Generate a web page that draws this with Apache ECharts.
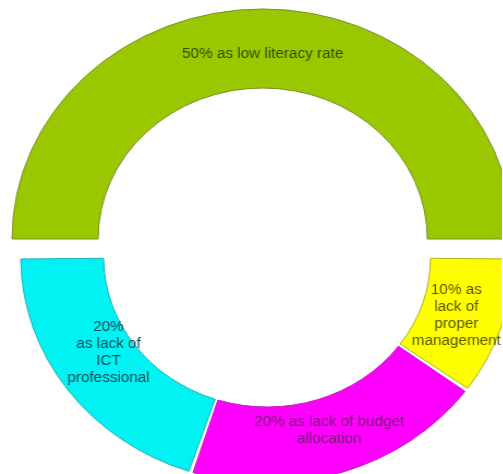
<!DOCTYPE html>
<html>
<head>
<meta charset="utf-8">
<script src="https://cdn.jsdelivr.net/npm/echarts@6/dist/echarts.min.js"></script>
<style>
  html, body { margin: 0; padding: 0; background: #fff; overflow: hidden; }
  #wrap { width: 503px; height: 474px; overflow: hidden; position: relative; }
  /* the ring is drawn slightly wider than tall */
  #chart { width: 461px; height: 474px; transform: scaleX(1.09); transform-origin: 0 0; }
</style>
</head>
<body>
<div id="wrap"><div id="chart"></div></div>
<script>
// Upper half: the main cause
const topNames = ['50% as low literacy rate'];
const topValues = [50];

// Lower half: the remaining causes
const lowNames = ['10% as\nlack of\nproper\nmanagement', '20% as lack of budget\nallocation', '20%\nas lack of\nICT\nprofessional'];
const lowValues = [10, 20, 20];

const topColors = ['#99c800'];
const topBorders = ['#7f8f2a'];
const topText = ['#2c5200'];
const lowColors = ['#ffff00', '#ff00ff', '#00f2f2'];
const lowBorders = ['#b3b01a', '#c21fb8', '#1fb3b8'];
const lowText = ['#5a5600', '#74196f', '#184a58'];

// horizontal nudges of each label and blank lines added above / below it
const topPad = [[0, 0, 0, 0]];
const topLines = [[1, 0]];
const lowPad = [[0, 16, 0, 0], [0, 4, 0, 0], [0, 0, 0, 18]];
const lowLines = [[0, 0], [0, 1], [0, 2]];

const font = { fontFamily: 'Liberation Sans, Arial, sans-serif', fontSize: 14, lineHeight: 17 };

function text(name, lines) {
  return '\n'.repeat(lines[0]) + name + '\n'.repeat(lines[1]);
}

const chart = echarts.init(document.getElementById('chart'), null, { renderer: 'canvas' });
chart.setOption({
  animation: false,
  backgroundColor: '#fff',
  series: [
    {
      type: 'pie',
      center: [241, 239],
      radius: [151, 230],
      startAngle: 180,
      endAngle: 0,
      clockwise: true,
      silent: true,
      label: Object.assign({ show: true, position: 'inside' }, font),
      labelLine: { show: false },
      data: topValues.map((v, i) => ({
        name: topNames[i], value: v,
        itemStyle: { color: topColors[i], borderColor: topBorders[i], borderWidth: 1 },
        label: { color: topText[i], padding: topPad[i], formatter: text(topNames[i], topLines[i]) }
      }))
    },
    {
      type: 'pie',
      center: [245, 257],
      radius: [150, 226],
      startAngle: 0,
      endAngle: -180,
      clockwise: true,
      padAngle: 1,
      silent: true,
      label: Object.assign({ show: true, position: 'inside' }, font),
      labelLine: { show: false },
      data: lowValues.map((v, i) => ({
        name: lowNames[i], value: v,
        itemStyle: { color: lowColors[i], borderColor: lowBorders[i], borderWidth: 1 },
        label: { color: lowText[i], padding: lowPad[i], formatter: text(lowNames[i], lowLines[i]) }
      }))
    }
  ]
});
</script>
</body>
</html>
